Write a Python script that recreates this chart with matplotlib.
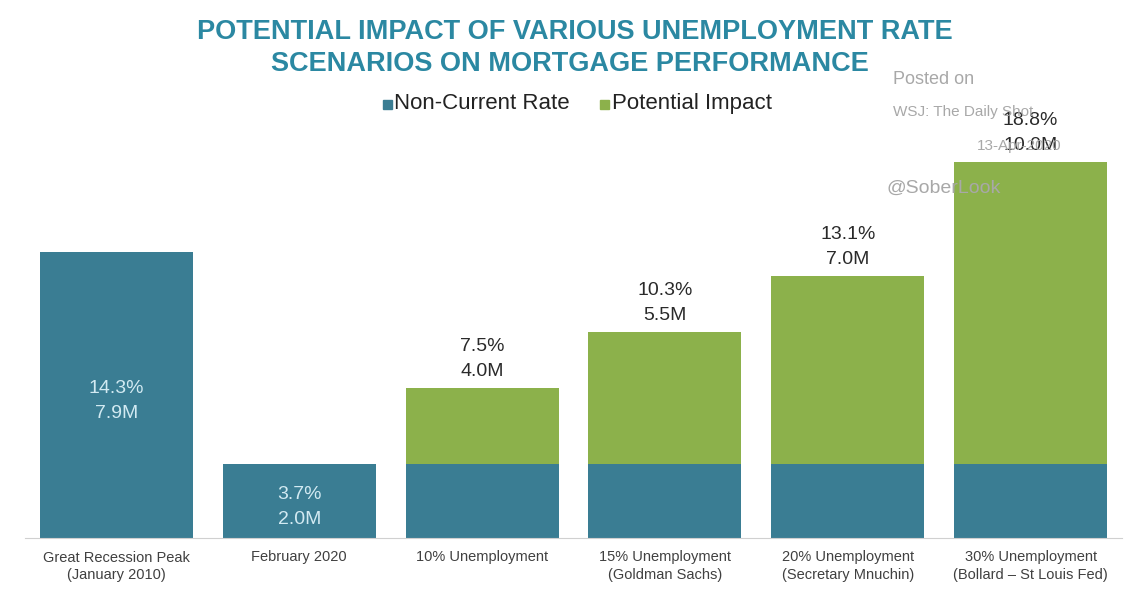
import matplotlib.pyplot as plt
from matplotlib.patches import Rectangle

categories = ['Great Recession Peak\n(January 2010)', 'February 2020', '10% Unemployment',
              '15% Unemployment\n(Goldman Sachs)', '20% Unemployment\n(Secretary Mnuchin)',
              '30% Unemployment\n(Bollard \u2013 St Louis Fed)']
non_current = [14.3, 3.7, 3.7, 3.7, 3.7, 3.7]
potential = [0, 0, 3.8, 6.6, 9.4, 15.1]
totals = [14.3, 3.7, 7.5, 10.3, 13.1, 18.8]
loans = ['7.9M', '2.0M', '4.0M', '5.5M', '7.0M', '10.0M']

blue = '#3a7d93'
green = '#8cb14b'

plt.rcParams['font.family'] = ['Liberation Sans', 'DejaVu Sans']
fig = plt.figure(figsize=(11.25, 5.97), dpi=100)
ax = fig.add_axes([25 / 1125, 1 - 538 / 597, 1097 / 1125, 400 / 597])

x = range(len(categories))
ax.bar(x, non_current, width=0.836, color=blue)
ax.bar(x, potential, width=0.836, bottom=non_current, color=green)
ax.set_xlim(-0.5, 5.5)
ax.set_ylim(0, 20)

# watermark text behind the labels
wm = '#a8a8a8'
fig.text(893 / 1125, 1 - 80 / 597, 'Posted on', fontsize=13, color=wm, va='center')
fig.text(893 / 1125, 1 - 112 / 597, 'WSJ: The Daily Shot', fontsize=11, color=wm, va='center')
fig.text(1062 / 1125, 1 - 146 / 597, '13-Apr-2020', fontsize=11, color=wm, va='center', ha='right')
fig.text(887 / 1125, 1 - 188 / 597, '@SoberLook', fontsize=14, color=wm, va='center')

for i in x:
    label = '%.1f%%\n%s' % (totals[i], loans[i])
    if potential[i] == 0:
        ax.text(i, totals[i] / 2 - 0.3, label, ha='center', va='center', fontsize=14,
                color='#d2eaf2', linespacing=1.6)
    else:
        ax.text(i, totals[i] + 0.4, label, ha='center', va='bottom', fontsize=14,
                color='#2a2a2a', linespacing=1.6)

ax.set_xticks(list(x))
ax.set_xticklabels(categories, fontsize=10.5, color='#404040', linespacing=1.3)
ax.tick_params(axis='x', length=0, pad=9)
ax.set_yticks([])
for s in ['top', 'right', 'left']:
    ax.spines[s].set_visible(False)
ax.spines['bottom'].set_color('#d0d0d0')

fig.text(575 / 1125, 1 - 32 / 597, 'POTENTIAL IMPACT OF VARIOUS UNEMPLOYMENT RATE',
         ha='center', va='center', fontsize=19.5, fontweight='bold', color='#2b88a2')
fig.text(570 / 1125, 1 - 64 / 597, 'SCENARIOS ON MORTGAGE PERFORMANCE',
         ha='center', va='center', fontsize=19.5, fontweight='bold', color='#2b88a2')

# legend
ly = 1 - 104 / 597
fig.patches.append(Rectangle((383 / 1125, ly - 5 / 597), 9 / 1125, 9 / 597,
                             transform=fig.transFigure, color=blue))
fig.text(394 / 1125, ly, 'Non-Current Rate', fontsize=16, va='center', color='#222222')
fig.patches.append(Rectangle((600 / 1125, ly - 5 / 597), 9 / 1125, 9 / 597,
                             transform=fig.transFigure, color=green))
fig.text(612 / 1125, ly, 'Potential Impact', fontsize=16, va='center', color='#222222')

fig.savefig('out.png', dpi=100)
